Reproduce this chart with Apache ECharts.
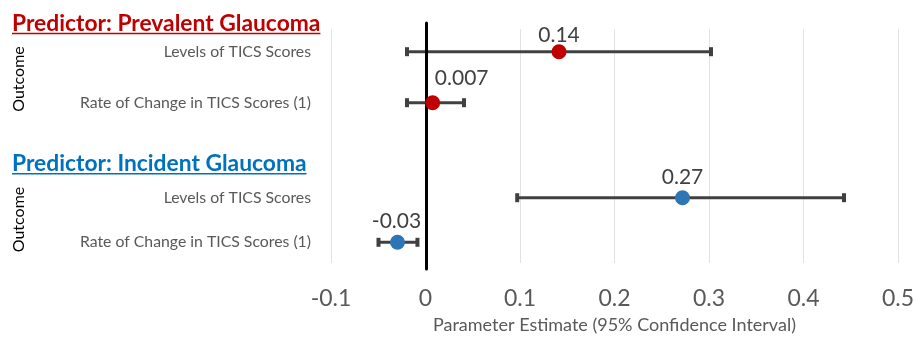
<!DOCTYPE html>
<html>
<head>
<meta charset="utf-8">
<script src="https://cdn.jsdelivr.net/npm/echarts@6/dist/echarts.min.js"></script>
<style>html,body{margin:0;padding:0;background:#fff;}#c{width:917px;height:341px;}</style>
</head>
<body>
<div id="c"></div>
<script>
// ---- data ----
const rowLabels = ['Levels of TICS Scores', 'Rate of Change in TICS Scores (1)'];
const prevalentEst = [0.14, 0.007];
const prevalentLow = [-0.02, -0.02];
const prevalentHigh = [0.30, 0.04];
const prevalentText = ['0.14', '0.007'];
const incidentEst = [0.27, -0.03];
const incidentLow = [0.096, -0.05];
const incidentHigh = [0.44, -0.009];
const incidentText = ['0.27', '-0.03'];
const panelTitles = ['Predictor: Prevalent Glaucoma', 'Predictor: Incident Glaucoma'];
const yAxisTitle = 'Outcome';
const xAxisTitle = 'Parameter Estimate (95% Confidence Interval)';
const xMin = -0.1, xMax = 0.5, xStep = 0.1;

// ---- style ----
const FONT = 'Lato';
const RED = '#C00000', BLUE = '#0070C0', DOT_BLUE = '#2E75B6';
const BAR = '#404040';
const labelOffsets = [[[0, -16], [29, -24]], [[0, -20], [-1, -21]]];

function measure(text, font) {
  const c = document.createElement('canvas').getContext('2d');
  c.font = font; return c.measureText(text).width;
}

function errRender(params, api) {
  const cat = api.value(0);
  const lo = api.coord([api.value(1), cat]);
  const hi = api.coord([api.value(2), cat]);
  const capH = 9, capW = 4;
  return { type: 'group', children: [
    { type: 'line', shape: { x1: lo[0], y1: lo[1], x2: hi[0], y2: hi[1] }, style: { stroke: BAR, lineWidth: 3 } },
    { type: 'rect', shape: { x: lo[0] - capW / 2, y: lo[1] - capH / 2, width: capW, height: capH }, style: { fill: BAR } },
    { type: 'rect', shape: { x: hi[0] - capW / 2, y: hi[1] - capH / 2, width: capW, height: capH }, style: { fill: BAR } }
  ]};
}

const L = 331, R = 16;
const grids = [
  { left: L, right: R, top: 23, bottom: 72 },      // zero line
  { left: L, right: R, top: 29, bottom: 78 },      // gridlines + ticks
  { left: L, right: R, top: 26.2, height: 102 },   // panel 1
  { left: L, right: R, top: 175.4, height: 89.2 }  // panel 2
];

const hiddenX = (gi) => ({ type: 'value', gridIndex: gi, min: xMin, max: xMax, interval: xStep, show: false });
const xAxes = [
  hiddenX(0),
  { type: 'value', gridIndex: 1, min: xMin, max: xMax, interval: xStep,
    axisLine: { show: false }, axisTick: { show: false },
    splitLine: { show: true, lineStyle: { color: '#E2E2E2', width: 1 } },
    axisLabel: { fontFamily: FONT, fontSize: 23, color: '#595959', margin: 24 },
    name: xAxisTitle, nameLocation: 'middle', nameGap: 53,
    nameTextStyle: { fontFamily: FONT, fontSize: 18, color: '#595959' } },
  hiddenX(2), hiddenX(3)
];
const catAxis = (gi) => ({ type: 'category', gridIndex: gi, data: rowLabels, inverse: true,
  axisLine: { show: false }, axisTick: { show: false }, splitLine: { show: false },
  axisLabel: { fontFamily: FONT, fontSize: 15.8, color: '#595959', margin: 20 } });
const yAxes = [
  { type: 'value', gridIndex: 0, min: 0, max: 1, z: 3,
    axisLine: { show: true, onZero: true, lineStyle: { color: '#000', width: 3 } },
    axisTick: { show: false }, axisLabel: { show: false }, splitLine: { show: false } },
  { type: 'value', gridIndex: 1, min: 0, max: 1, show: false },
  catAxis(2), catAxis(3)
];

function makeSeries(gi, est, low, high, text, color, offs) {
  return [
    { type: 'custom', xAxisIndex: gi, yAxisIndex: gi, z: 1, renderItem: errRender,
      encode: { x: [1, 2], y: 0 },
      data: est.map((_, i) => [i, low[i], high[i]]) },
    { type: 'scatter', xAxisIndex: gi, yAxisIndex: gi, z: 5, symbolSize: 15,
      itemStyle: { color: color, opacity: 1 },
      data: est.map((v, i) => ({ value: [v, i],
        label: { show: true, position: 'inside', offset: offs[i], formatter: text[i],
          fontFamily: FONT, fontSize: 21, color: '#404040' } })) }
  ];
}

const graphics = [];
[[panelTitles[0], RED, 23.5, 33.5], [panelTitles[1], BLUE, 164, 173.8]].forEach(([t, col, cy, uy]) => {
  const font = 'bold 22.8px ' + FONT;
  const w = measure(t, font);
  graphics.push({ type: 'text', x: 12, y: cy, style: { text: t, font: font, fill: col, verticalAlign: 'middle', align: 'left' } });
  graphics.push({ type: 'line', shape: { x1: 12, y1: uy, x2: 12 + w, y2: uy }, style: { stroke: col, lineWidth: 1.5 } });
});
[79, 219.5].forEach(cy => {
  graphics.push({ type: 'text', x: 18.5, y: cy, rotation: Math.PI / 2,
    style: { text: yAxisTitle, font: '16px ' + FONT, fill: '#000', align: 'center', verticalAlign: 'middle' } });
});

const chart = echarts.init(document.getElementById('c'), null, { renderer: 'canvas' });
chart.setOption({
  animation: false,
  backgroundColor: '#fff',
  grid: grids,
  xAxis: xAxes,
  yAxis: yAxes,
  graphic: graphics,
  series: [
    ...makeSeries(2, prevalentEst, prevalentLow, prevalentHigh, prevalentText, RED, labelOffsets[0]),
    ...makeSeries(3, incidentEst, incidentLow, incidentHigh, incidentText, DOT_BLUE, labelOffsets[1])
  ]
});
</script>
</body>
</html>
